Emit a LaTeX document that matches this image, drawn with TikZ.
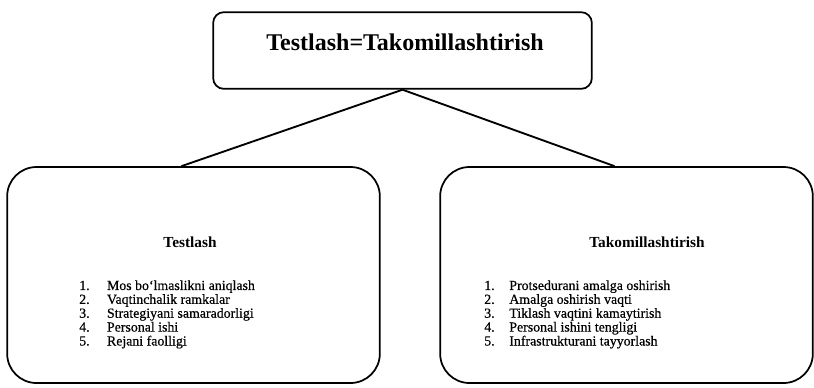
\documentclass[tikz,border=0pt]{standalone}
\usepackage{fontspec}
\setmainfont{Liberation Serif}
\newfontfamily\listfont[FakeBold=0.5]{Liberation Serif}
\begin{document}
\begin{tikzpicture}[x=0.75pt,y=-0.75pt,
  box/.style={draw, line width=1.3pt, rounded corners=#1, inner sep=0pt},
  box/.default=8pt,
  link/.style={line width=1.4pt},
  heading/.style={font=\bfseries\fontsize{11.5pt}{12pt}\selectfont},
  items/.style={font=\listfont\fontsize{10.4pt}{10.4pt}\selectfont, align=left, anchor=north west, inner sep=0pt},
]
\useasboundingbox (0,0) rectangle (814,387);

% top box
\node[box=8pt, minimum width=284pt, minimum height=57.5pt] (top) at (402.5,50.5) {};
\node[font=\bfseries\fontsize{18pt}{20pt}\selectfont] (title) at (405,42) {Testlash=Takomillashtirish};

% lower boxes
\node[box=22pt, minimum width=279.5pt, minimum height=162pt] (left) at (193.5,275) {};
\node[box=22pt, minimum width=279.5pt, minimum height=162pt] (right) at (626.5,275) {};

% connectors
\draw[link] (top.south) -- ([xshift=-9pt]left.north);
\draw[link] (top.south) -- ([xshift=-9pt]right.north);

% left content
\node[heading] (lh) at (190,242) {Testlash};
\node[items] (li) at (79,280) {%
\begin{tabular}{@{}l@{\hspace{13pt}}l@{}}
1. & Mos bo\textquoteleft lmaslikni aniqlash\\
2. & Vaqtinchalik ramkalar\\
3. & Strategiyani samaradorligi\\
4. & Personal ishi\\
5. & Rejani faolligi
\end{tabular}};

% right content
\node[heading] (rh) at (647,242) {Takomillashtirish};
\node[items] (ri) at (484,280) {%
\begin{tabular}{@{}l@{\hspace{11pt}}l@{}}
1. & Protsedurani amalga oshirish\\
2. & Amalga oshirish vaqti\\
3. & Tiklash vaqtini kamaytirish\\
4. & Personal ishini tengligi\\
5. & Infrastrukturani tayyorlash
\end{tabular}};
\end{tikzpicture}
\end{document}
